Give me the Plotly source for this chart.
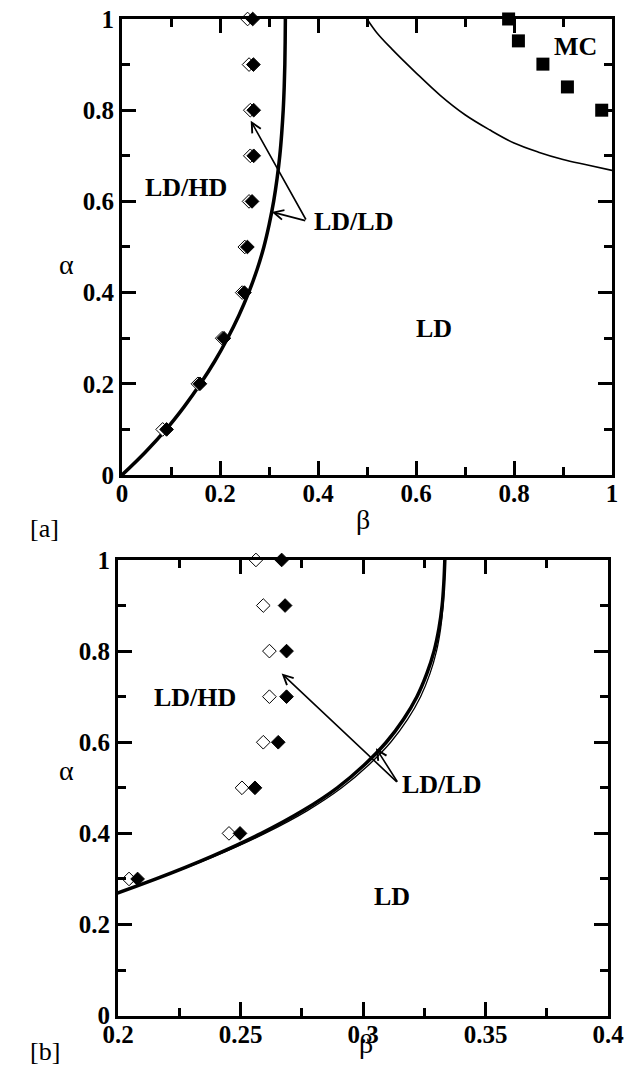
import plotly.graph_objects as go

# Diamonds: alpha rows and the beta where they sit (open / filled), same in both panels
alpha_pts = [0.1, 0.2, 0.3, 0.4, 0.5, 0.6, 0.7, 0.8, 0.9, 1.0]
beta_open = [0.083, 0.155, 0.2045, 0.2453, 0.2506, 0.2593, 0.2618, 0.2618, 0.2593, 0.2563]
beta_filled = [0.091, 0.159, 0.208, 0.2498, 0.2559, 0.2654, 0.2688, 0.2688, 0.2682, 0.2668]

# MC squares (panel a)
mc_beta = [0.789, 0.809, 0.859, 0.909, 0.979]
mc_alpha = [1.0, 0.952, 0.901, 0.851, 0.80]

# LD/LD boundary (thick line and the thin one next to it)
curve_alpha = [0, 0.05, 0.1, 0.15, 0.2, 0.25, 0.3, 0.35, 0.4, 0.45, 0.5,
               0.55, 0.6, 0.65, 0.7, 0.75, 0.8, 0.85, 0.9, 0.95, 1.0]
curve_beta = [0, 0.0475, 0.090, 0.127, 0.160, 0.1895, 0.2155, 0.2385, 0.2585, 0.2755, 0.2895,
              0.3005, 0.3095, 0.3165, 0.322, 0.326, 0.329, 0.331, 0.3323, 0.333, 0.3334]
curve2_beta = [0, 0.0475, 0.090, 0.127, 0.160, 0.1895, 0.2157, 0.2395, 0.2600, 0.2773, 0.2913,
               0.3023, 0.3113, 0.3182, 0.3235, 0.3273, 0.3300, 0.3317, 0.3327, 0.3332, 0.3335]

# thin line in the upper right of panel a
edge_beta = [0.5, 0.52, 0.55, 0.6, 0.65, 0.7, 0.75, 0.8, 0.85, 0.9, 0.95, 1.0]
edge_alpha = [1.0, 0.97, 0.935, 0.882, 0.832, 0.79, 0.757, 0.728, 0.708, 0.692, 0.68, 0.668]

# tick labels
ticks_unit = [0, 0.2, 0.4, 0.6, 0.8, 1]
ticks_unit_text = ["0", "0.2", "0.4", "0.6", "0.8", "1"]
ticks_b_x = [0.2, 0.25, 0.3, 0.35, 0.4]
ticks_b_x_text = ["0.2", "0.25", "0.3", "0.35", "0.4"]

fig = go.Figure()

def add_panel(xa, ya, xmin, xmax, thin_curve):
    keep = lambda bs: [(b, a) for b, a in zip(bs, alpha_pts) if xmin <= b <= xmax]
    o = keep(beta_open)
    f = keep(beta_filled)
    fig.add_trace(go.Scatter(x=curve_beta, y=curve_alpha, mode="lines", xaxis=xa, yaxis=ya,
                             line=dict(color="black", width=3.5, shape="spline")))
    if thin_curve:
        fig.add_trace(go.Scatter(x=curve2_beta, y=curve_alpha, mode="lines", xaxis=xa, yaxis=ya,
                                 line=dict(color="black", width=1.3, shape="spline")))
    fig.add_trace(go.Scatter(x=[p[0] for p in o], y=[p[1] for p in o], mode="markers",
                             xaxis=xa, yaxis=ya, cliponaxis=False,
                             marker=dict(symbol="diamond", size=10.5, color="white",
                                         line=dict(color="black", width=1))))
    fig.add_trace(go.Scatter(x=[p[0] for p in f], y=[p[1] for p in f], mode="markers",
                             xaxis=xa, yaxis=ya, cliponaxis=False,
                             marker=dict(symbol="diamond", size=10.5, color="black",
                                         line=dict(color="black", width=1))))

# panel a
add_panel("x", "y", 0, 1, False)
fig.add_trace(go.Scatter(x=edge_beta, y=edge_alpha, mode="lines",
                         line=dict(color="black", width=1.6, shape="spline")))
fig.add_trace(go.Scatter(x=mc_beta, y=mc_alpha, mode="markers", cliponaxis=False,
                         marker=dict(symbol="square", size=13, color="black")))
# panel b
add_panel("x2", "y2", 0.2, 0.4, True)

tickfont = dict(family="Liberation Serif", size=25, color="black", weight="bold")

def axis(rng, vals, text, minor_dtick, domain, anchor, standoff=0):
    return dict(range=rng, domain=domain, anchor=anchor, automargin=False,
                tickmode="array", tickvals=vals, ticktext=text,
                ticks="inside", ticklen=14, tickwidth=3, tickcolor="black",
                ticklabelstandoff=standoff,
                minor=dict(ticks="inside", ticklen=8, tickwidth=3, tickcolor="black",
                           tick0=0, dtick=minor_dtick),
                showline=True, linewidth=3, linecolor="black", mirror="ticks",
                showgrid=False, zeroline=False, tickfont=tickfont)

fig.update_layout(
    width=625, height=1085,
    margin=dict(l=0, r=0, t=0, b=0),
    plot_bgcolor="white", paper_bgcolor="white",
    showlegend=False,
    xaxis=axis([0, 1], ticks_unit, ticks_unit_text, 0.1, [0.1952, 0.9792], "y", -6),
    yaxis=axis([0, 1], ticks_unit, ticks_unit_text, 0.1, [0.5622, 0.9825], "x"),
    xaxis2=axis([0.2, 0.4], ticks_b_x, ticks_b_x_text, 0.025, [0.1888, 0.9728], "y2", -6),
    yaxis2=axis([0, 1], ticks_unit, ticks_unit_text, 0.1, [0.0639, 0.4839], "x2"),
)

label_font = dict(family="Liberation Serif", size=26, color="black", weight="bold")

# region labels
labels = [("x", "y", 0.130, 0.630, "LD/HD"), ("x", "y", 0.472, 0.555, "LD/LD"),
          ("x", "y", 0.637, 0.322, "LD"), ("x", "y", 0.926, 0.939, "MC"),
          ("x2", "y2", 0.2314, 0.698, "LD/HD"), ("x2", "y2", 0.3322, 0.508, "LD/LD"),
          ("x2", "y2", 0.312, 0.261, "LD")]
for xr, yr, bx, ay, txt in labels:
    fig.add_annotation(xref=xr, yref=yr, x=bx, y=ay, text=txt, showarrow=False, font=label_font)

# arrows from the LD/LD labels
arrows = [("x", "y", 0.377, 0.557, 0.2627, 0.777), ("x", "y", 0.377, 0.557, 0.3055, 0.577),
          ("x2", "y2", 0.3144, 0.51, 0.2668, 0.751), ("x2", "y2", 0.3144, 0.51, 0.3053, 0.587)]
for xr, yr, tx, ty, hx, hy in arrows:
    fig.add_annotation(xref=xr, yref=yr, axref=xr, ayref=yr, x=hx, y=hy, ax=tx, ay=ty,
                       text="", showarrow=True, arrowhead=5, arrowsize=1.2,
                       arrowwidth=1.6, arrowcolor="black")

# axis titles and panel tags
title_font = dict(family="Liberation Serif", size=28, color="black")
tag_font = dict(family="Liberation Serif", size=26, color="black")
for px, py, txt, fnt in [(57, 247, "α", title_font), (363, 520, "β", title_font),
                         (57, 788, "α", title_font), (366, 1061, "β", title_font),
                         (28, 528, "[a]", tag_font), (28, 1068, "[b]", tag_font)]:
    fig.add_annotation(xref="paper", yref="paper", x=px / 625, y=1 - py / 1085,
                       text=txt, showarrow=False, font=fnt)

# the page's default body margin would push the figure 8px down and right
fig.write_html("out.html", config={"displayModeBar": False},
               post_script="document.body.style.margin = '0';")
